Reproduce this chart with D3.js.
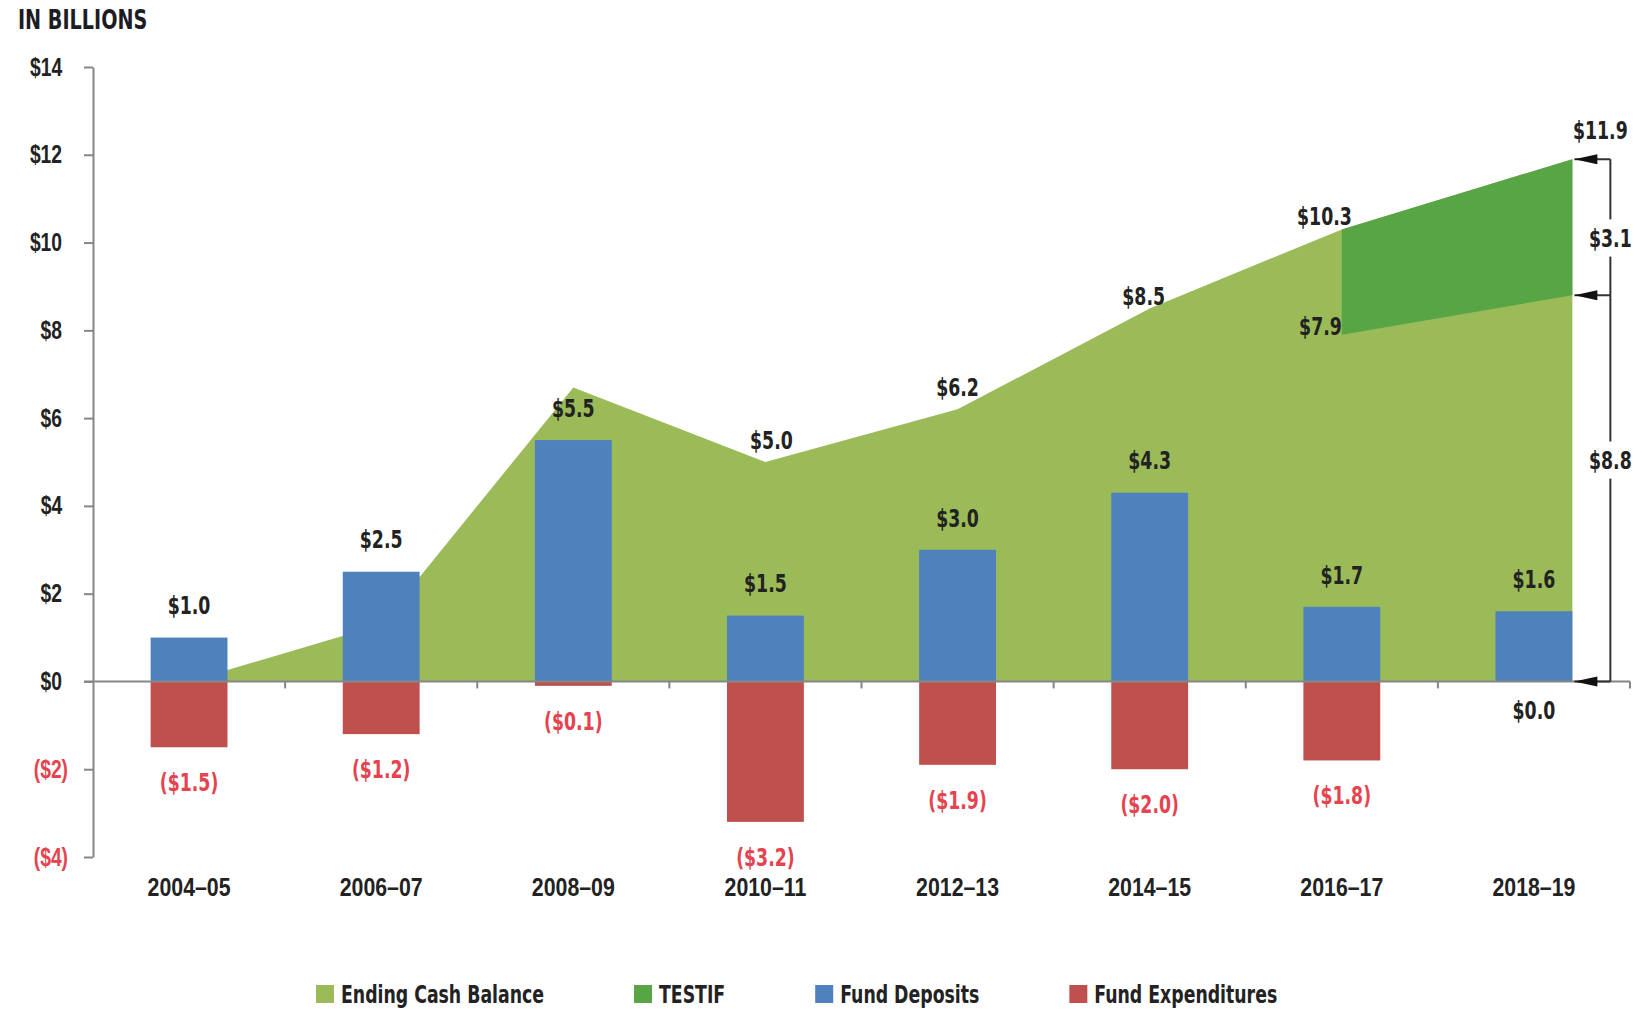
<!DOCTYPE html>
<html>
<head>
<meta charset="utf-8">
<script src="https://cdn.jsdelivr.net/npm/d3@7"></script>
<style>
  body { margin: 0; background: #fff; }
  svg {
    display: block;
    font-family: "Liberation Sans Narrow", "DejaVu Sans Condensed", "Arial Narrow", sans-serif;
    font-weight: bold;
  }
  /* the source uses a tall, very narrow face: squeeze the condensed fallback */
  svg text {
    transform-box: fill-box;
    transform-origin: center;
    transform: scaleX(0.77);
  }
  .title { font-size: 26px; fill: #1c1c24; transform-origin: left center; transform: scaleX(0.82); }
  .axis-g text { font-size: 25px; fill: #222; font-family: inherit; font-weight: bold; }
  .axis-g--y text { transform-origin: right center; }
  .axis-g--x text { font-size: 26px; transform: scaleX(0.82); }
  .axis-g .domain, .axis-g line, .zero-line, .zero-tick { stroke: #868686; stroke-width: 2; }
  .value-label { font-size: 25px; fill: #222; text-anchor: middle; }
  .value-label.end { text-anchor: end; transform-origin: right center; }
  .value-label.negative { fill: #e5434f; }
  .bracket-line { stroke: #333; stroke-width: 2; fill: none; }
  .arrow-head { fill: #111; }
  .legend-g text { font-size: 25px; fill: #222; transform-origin: left center; }
</style>
</head>
<body>
<div id="chart"></div>
<script>
const categories = ["2004–05", "2006–07", "2008–09", "2010–11", "2012–13", "2014–15", "2016–17", "2018–19"];
// total ending cash balance (including TESTIF), in billions
const endingBalance = [0, 1.3, 6.7, 5.0, 6.2, 8.5, 10.3, 11.9];
const testif = [0, 0, 0, 0, 0, 0, 2.4, 3.1];
const fundDeposits = [1.0, 2.5, 5.5, 1.5, 3.0, 4.3, 1.7, 1.6];
const fundExpenditures = [-1.5, -1.2, -0.1, -3.2, -1.9, -2.0, -1.8, 0.0];
const yTickValues = [-4, -2, 0, 2, 4, 6, 8, 10, 12, 14];
const legendLabels = ["Ending Cash Balance", "TESTIF", "Fund Deposits", "Fund Expenditures"];

const colors = ["#9bbb59", "#57a545", "#4f81bd", "#c0504d"];

class CashBalanceChart {
  constructor({ el }) {
    this.el = el;
    this.init();
  }

  init() {
    this.setup();
    this.scaffold();
    this.render();
  }

  setup() {
    this.width = 1652;
    this.height = 1009;
    this.marginLeft = 93;
    this.marginRight = 22;
    this.marginTop = 67;
    this.plotBottom = 857;

    this.x = d3
      .scaleBand()
      .domain(categories)
      .range([this.marginLeft, this.width - this.marginRight])
      .paddingInner(0.6)
      .paddingOuter(0.3);
    this.y = d3
      .scaleLinear()
      .domain([-4, 14])
      .range([this.plotBottom, this.marginTop]);

    this.xc = (i) => this.x(categories[i]) + this.x.bandwidth() / 2;
    // the balance area runs out to the right edge of the last bar
    this.xArea = (i) =>
      i === categories.length - 1
        ? this.x(categories[i]) + this.x.bandwidth()
        : this.xc(i);

    this.formatMoney = (v) =>
      v < 0 ? `($${Math.abs(v).toFixed(1)})` : `$${v.toFixed(1)}`;
    this.formatYTick = (v) => (v < 0 ? `($${-v})` : `$${v}`);

    this.area = d3
      .area()
      .x((d) => this.xArea(d.i))
      .y0((d) => this.y(d.lo))
      .y1((d) => this.y(d.hi));
  }

  scaffold() {
    this.svg = d3
      .select(this.el)
      .append("svg")
      .attr("width", this.width)
      .attr("height", this.height)
      .attr("viewBox", [0, 0, this.width, this.height]);
    this.gAreas = this.svg.append("g").attr("class", "areas-g");
    this.gBars = this.svg.append("g").attr("class", "bars-g");
    this.gX = this.svg.append("g").attr("class", "axis-g axis-g--x");
    this.gY = this.svg.append("g").attr("class", "axis-g axis-g--y");
    this.gLabels = this.svg.append("g").attr("class", "labels-g");
    this.gBracket = this.svg.append("g").attr("class", "bracket-g");
    this.gLegend = this.svg.append("g").attr("class", "legend-g");
  }

  render() {
    this.svg
      .append("text")
      .attr("class", "title")
      .attr("x", 18)
      .attr("y", 29)
      .text("IN BILLIONS");
    this.renderAreas();
    this.renderBars();
    this.renderXAxis();
    this.renderYAxis();
    this.renderLabels();
    this.renderBracket();
    this.renderLegend();
  }

  renderAreas() {
    const balance = endingBalance.map((d, i) => ({ i, lo: 0, hi: d }));
    const fund = testif
      .map((d, i) => ({ i, lo: endingBalance[i] - d, hi: endingBalance[i] }))
      .filter((d) => testif[d.i] > 0);

    this.gAreas
      .append("path")
      .attr("fill", colors[0])
      .attr("d", this.area(balance));
    this.gAreas
      .append("path")
      .attr("fill", colors[1])
      .attr("d", this.area(fund));
  }

  renderBars() {
    const bw = this.x.bandwidth();
    this.gBars
      .selectAll(".deposit-rect")
      .data(fundDeposits)
      .join("rect")
      .attr("class", "deposit-rect")
      .attr("x", (d, i) => this.x(categories[i]))
      .attr("width", bw)
      .attr("y", (d) => this.y(d))
      .attr("height", (d) => this.y(0) - this.y(d))
      .attr("fill", colors[2]);
    this.gBars
      .selectAll(".expend-rect")
      .data(fundExpenditures)
      .join("rect")
      .attr("class", "expend-rect")
      .attr("x", (d, i) => this.x(categories[i]))
      .attr("width", bw)
      .attr("y", this.y(0))
      .attr("height", (d) => this.y(d) - this.y(0))
      .attr("fill", colors[3]);
  }

  renderXAxis() {
    const y0 = this.y(0);
    const step = this.x.step();
    this.gX
      .append("line")
      .attr("class", "zero-line")
      .attr("x1", this.marginLeft - 9)
      .attr("x2", this.width - this.marginRight)
      .attr("y1", y0)
      .attr("y2", y0);
    this.gX
      .selectAll(".zero-tick")
      .data(categories)
      .join("line")
      .attr("class", "zero-tick")
      .attr("x1", (d, i) => this.marginLeft + (i + 1) * step)
      .attr("x2", (d, i) => this.marginLeft + (i + 1) * step)
      .attr("y1", y0)
      .attr("y2", y0 + 7);

    this.gX
      .append("g")
      .attr("transform", `translate(0,${this.plotBottom})`)
      .call(d3.axisBottom(this.x).tickSize(0).tickPadding(21))
      .call((g) => g.select(".domain").remove());
  }

  renderYAxis() {
    this.gY
      .attr("transform", `translate(${this.marginLeft},0)`)
      .call(
        d3
          .axisLeft(this.y)
          .tickValues(yTickValues)
          .tickFormat(this.formatYTick)
          .tickSize(9)
          .tickSizeOuter(0)
          .tickPadding(16)
      )
      .call((g) =>
        g
          .selectAll(".tick text")
          .attr("x", (d) => (d < 0 ? -25 : -31))
          .style("fill", (d) => (d < 0 ? "#e5434f" : null))
      );
  }

  renderLabels() {
    const g = this.gLabels;
    // fund deposits above the blue bars
    g.selectAll(".dep-label")
      .data(fundDeposits)
      .join("text")
      .attr("class", "value-label dep-label")
      .attr("x", (d, i) => this.xc(i))
      .attr("y", (d) => this.y(d) - 32)
      .attr("dy", "0.35em")
      .text(this.formatMoney);
    // fund expenditures below the red bars
    g.selectAll(".exp-label")
      .data(fundExpenditures)
      .join("text")
      .attr("class", (d) => `value-label exp-label${d < 0 ? " negative" : ""}`)
      .attr("x", (d, i) => this.xc(i))
      .attr("y", (d) => this.y(d) + (d < 0 ? 35 : 29))
      .attr("dy", "0.35em")
      .text(this.formatMoney);
    // ending balance at the points that are not hidden by bars
    const shown = [3, 4, 5];
    g.selectAll(".bal-label")
      .data(shown)
      .join("text")
      .attr("class", "value-label bal-label")
      .attr("x", (i) => this.xc(i) + (i === 5 ? -6 : i === 3 ? 6 : 0))
      .attr("y", (i) => this.y(endingBalance[i]) - (i === 5 ? 12 : 22))
      .attr("dy", "0.35em")
      .text((i) => this.formatMoney(endingBalance[i]));

    // start of the TESTIF wedge
    const iStart = testif.findIndex((d) => d > 0);
    g.append("text")
      .attr("class", "value-label end")
      .attr("x", this.xc(iStart) + 10)
      .attr("y", this.y(endingBalance[iStart]) - 13)
      .attr("dy", "0.35em")
      .text(this.formatMoney(endingBalance[iStart]));
    g.append("text")
      .attr("class", "value-label end")
      .attr("x", this.xc(iStart))
      .attr("y", this.y(endingBalance[iStart] - testif[iStart]) - 8)
      .attr("dy", "0.35em")
      .text(this.formatMoney(endingBalance[iStart] - testif[iStart]));
  }

  renderBracket() {
    const last = categories.length - 1;
    const total = endingBalance[last];
    const base = total - testif[last];
    const tip = this.x(categories[last]) + this.x.bandwidth() + 2;
    const lineX = tip + 36;
    const g = this.gBracket;

    g.append("line")
      .attr("class", "bracket-line")
      .attr("x1", lineX)
      .attr("x2", lineX)
      .attr("y1", this.y(total))
      .attr("y2", this.y(0));

    const arrows = g
      .selectAll(".arrow")
      .data([total, base, 0])
      .join("g")
      .attr("class", "arrow")
      .attr("transform", (d) => `translate(${tip},${this.y(d)})`);
    arrows
      .append("line")
      .attr("class", "bracket-line")
      .attr("x1", 0)
      .attr("x2", lineX - tip);
    arrows
      .append("path")
      .attr("class", "arrow-head")
      .attr("d", "M0,0L23,-5L23,5Z");

    g.append("text")
      .attr("class", "value-label")
      .attr("x", lineX - 10)
      .attr("y", this.y(total) - 29)
      .attr("dy", "0.35em")
      .text(this.formatMoney(total));

    const boxed = [
      { v: testif[last], y: (this.y(total) + this.y(base)) / 2 + 11 },
      { v: base, y: (this.y(base) + this.y(0)) / 2 - 28 },
    ];
    boxed.forEach((d) => {
      const t = g
        .append("text")
        .attr("class", "value-label")
        .attr("x", lineX)
        .attr("y", d.y)
        .attr("dy", "0.35em")
        .text(this.formatMoney(d.v));
      const box = t.node().getBBox();
      const w = box.width * 0.77;
      g.insert("rect", () => t.node())
        .attr("x", lineX - w / 2 - 3)
        .attr("y", box.y - 4)
        .attr("width", w + 6)
        .attr("height", box.height + 8)
        .attr("fill", "#fff");
    });
  }

  renderLegend() {
    const size = 18;
    let xPos = 316;
    legendLabels.forEach((label, i) => {
      const item = this.gLegend
        .append("g")
        .attr("transform", `translate(${xPos},985)`);
      item
        .append("rect")
        .attr("width", size)
        .attr("height", size)
        .attr("fill", colors[i]);
      const t = item
        .append("text")
        .attr("x", size + 7)
        .attr("y", size / 2)
        .attr("dy", "0.35em")
        .text(label);
      xPos += size + 7 + t.node().getComputedTextLength() * 0.77 + 90;
    });
  }
}

new CashBalanceChart({ el: document.getElementById("chart") });
</script>
</body>
</html>
